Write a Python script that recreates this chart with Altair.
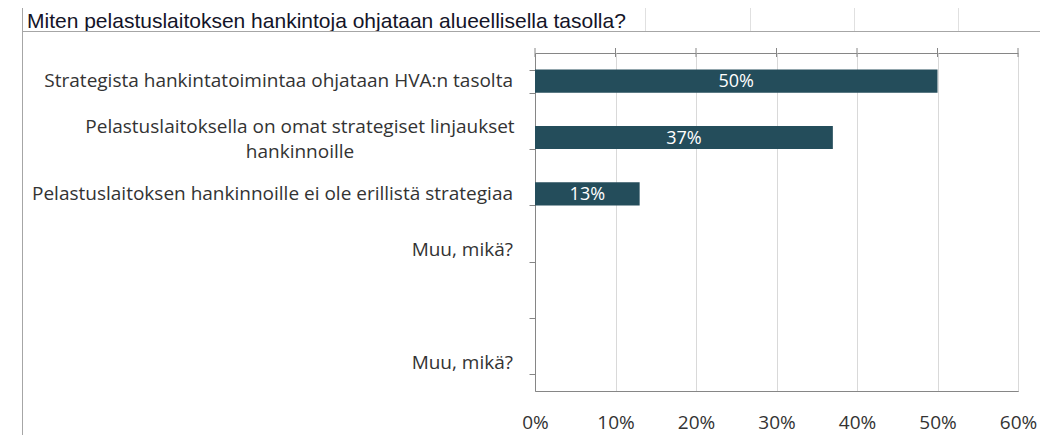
import altair as alt
import pandas as pd

# ---------------- data ----------------
title_text = "Miten pelastuslaitoksen hankintoja ohjataan alueellisella tasolla?"
keys = ["c1", "c2", "c3", "c4", "c5", "c6"]
labels = [
    "Strategista hankintatoimintaa ohjataan HVA:n tasolta",
    "Pelastuslaitoksella on omat strategiset linjaukset\nhankinnoille",
    "Pelastuslaitoksen hankinnoille ei ole erillistä strategiaa",
    "Muu, mikä?",
    "",
    "Muu, mikä?",
]
values = [0.50, 0.37, 0.13, 0.0, 0.0, 0.0]
x_ticks = [0.0, 0.1, 0.2, 0.3, 0.4, 0.5, 0.6]

df = pd.DataFrame({"key": keys, "label": labels, "value": values})
ticks_df = pd.DataFrame({"t": x_ticks})

AXIS_GRAY = "#868686"
BAR_COLOR = "#244d5b"
TEXT_COLOR = "#333333"
LABEL_FONT = "Open Sans"

x_scale = alt.Scale(domain=[0, 0.6], nice=False, zero=True)
y_scale = alt.Scale(domain=keys, paddingInner=0.59, paddingOuter=0.295)

y_axis = alt.Axis(
    title=None,
    orient="left",
    labels=False,
    domain=True,
    ticks=True,
    tickBand="extent",
    tickSize=6,
    tickColor=AXIS_GRAY,
    domainColor=AXIS_GRAY,
    grid=False,
)

x_axis = alt.Axis(
    title=None,
    values=x_ticks,
    format=".0%",
    labelFont=LABEL_FONT,
    labelFontSize=19,
    labelColor=TEXT_COLOR,
    labelPadding=22,
    labelFlush=False,
    labelOverlap=False,
    ticks=False,
    domain=True,
    domainColor=AXIS_GRAY,
    grid=True,
    gridColor="#d9d9d9",
    orient="bottom",
)

X_ENC = dict(scale=x_scale, axis=x_axis)
Y_ENC = dict(scale=y_scale, sort=keys, axis=y_axis)

bars = alt.Chart(df).transform_filter("datum.value > 0").mark_bar(color=BAR_COLOR).encode(
    x=alt.X("value:Q", **X_ENC),
    y=alt.Y("key:N", **Y_ENC),
)

# small tick marks crossing the top border of the plot
top_ticks = alt.Chart(ticks_df).mark_rule(color=AXIS_GRAY, strokeWidth=1).encode(
    x=alt.X("t:Q", **X_ENC),
    y=alt.value(-5),
    y2=alt.value(4),
)

bar_text = alt.Chart(df).transform_filter("datum.value > 0").transform_calculate(
    mid="datum.value / 2"
).mark_text(color="white", font=LABEL_FONT, fontSize=18, baseline="middle", align="center", dy=1).encode(
    x=alt.X("mid:Q", **X_ENC),
    y=alt.Y("key:N", **Y_ENC),
    text=alt.Text("value:Q", format=".0%"),
)

# category labels (single-line: right aligned; wrapped: centred block)
cat_single = alt.Chart(df).transform_filter("indexof(datum.label, '\\n') < 0").mark_text(
    font=LABEL_FONT, fontSize=19, color=TEXT_COLOR, align="right", baseline="middle",
).encode(
    x=alt.value(-22),
    y=alt.Y("key:N", **Y_ENC),
    text="label:N",
)
cat_wrapped = alt.Chart(df).transform_filter("indexof(datum.label, '\\n') >= 0").mark_text(
    font=LABEL_FONT, fontSize=19, color=TEXT_COLOR, align="center", baseline="middle",
    lineBreak="\n", lineHeight=25, dy=-11,
).encode(
    x=alt.value(-235),
    y=alt.Y("key:N", **Y_ENC),
    text="label:N",
)

one = pd.DataFrame({"d": [0]})

# spreadsheet decoration (cell borders around the chart object)
deco = []
deco.append(alt.Chart(one).mark_rule(color="#a6a6a6", strokeWidth=1).encode(
    x=alt.value(-512.5), y=alt.value(-60), y2=alt.value(420)))
deco.append(alt.Chart(one).mark_rule(color="#a6a6a6", strokeWidth=1).encode(
    x=alt.value(-512.5), x2=alt.value(520), y=alt.value(-21.5)))
for cx in [110.5, 215.5, 319.5, 423.5]:
    deco.append(alt.Chart(one).mark_rule(color="#e0e0e0", strokeWidth=1).encode(
        x=alt.value(cx), y=alt.value(-60), y2=alt.value(-22)))

title_mark = alt.Chart(one).mark_text(
    text=title_text, font="Liberation Sans", fontSize=21, color="#141428",
    align="left", baseline="alphabetic",
).encode(x=alt.value(-508), y=alt.value(-25.5))

chart = alt.layer(bars, top_ticks, bar_text, cat_single, cat_wrapped, title_mark, *deco).properties(
    width=483,
    height=338,
    autosize=alt.AutoSizeParams(type="none"),
    padding={"left": 527, "top": 45, "right": 22, "bottom": 44},
    background="white",
).configure_view(stroke=AXIS_GRAY, strokeWidth=1)

chart.save("out.html", embed_options={"renderer": "svg", "actions": False})
